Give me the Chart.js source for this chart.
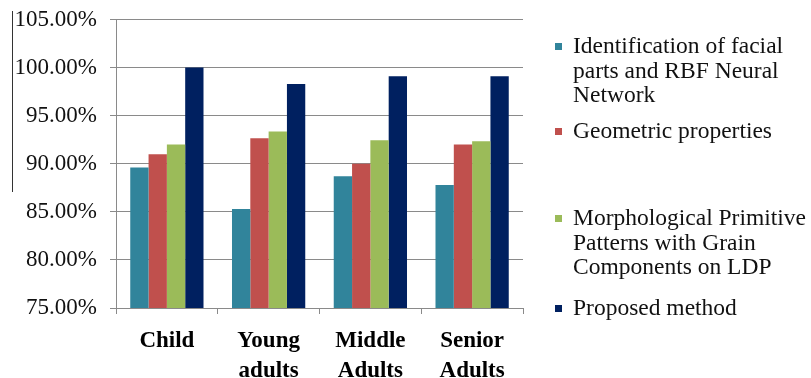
<!DOCTYPE html>
<html>
<head>
<meta charset="utf-8">
<script src="https://cdn.jsdelivr.net/npm/chart.js@4/dist/chart.umd.min.js"></script>
<style>
  html, body { margin: 0; padding: 0; background: #fff; }
  #wrap { position: relative; width: 811px; height: 378px; overflow: hidden; }
  #c { position: absolute; left: 0; top: 0; }
  #artifact { position: absolute; left: 12px; top: 11px; width: 1px; height: 181px; background: #333; }
  .leg { position: absolute; left: 555px; font-family: 'Liberation Serif', serif; font-size: 23.5px; line-height: 24.5px; color: #111; }
  .leg .sw { position: absolute; left: 0; width: 7px; height: 7px; }
  .leg .tx { position: absolute; left: 18px; white-space: nowrap; }
</style>
</head>
<body>
<div id="wrap">
  <canvas id="c" width="811" height="378"></canvas>
  <div id="artifact"></div>
  <div id="legend"></div>
</div>
<script>
const categories = [["Child"], ["Young", "adults"], ["Middle", "Adults"], ["Senior", "Adults"]];
const seriesNames = [
  "Identification of facial parts and RBF Neural Network",
  "Geometric properties",
  "Morphological Primitive Patterns with Grain Components on LDP",
  "Proposed method"
];
const legendLines = [
  ["Identification of facial", "parts and RBF Neural", "Network"],
  ["Geometric properties"],
  ["Morphological Primitive", "Patterns with Grain", "Components on LDP"],
  ["Proposed method"]
];
const identificationRBF = [89.6, 85.3, 88.7, 87.8];
const geometricProps = [91.0, 92.65, 90.0, 92.0];
const morphologicalLDP = [92.0, 93.35, 92.45, 92.35];
const proposedMethod = [100.0, 98.3, 99.1, 99.1];
const yTicks = [75, 80, 85, 90, 95, 100, 105];

const colors = ["#31849B", "#C0504D", "#9BBB59", "#002060"];
const seriesData = [identificationRBF, geometricProps, morphologicalLDP, proposedMethod];

const legendTops = [33, 118, 205, 295];
const legendEl = document.getElementById("legend");
legendLines.forEach((lines, i) => {
  const item = document.createElement("div");
  item.className = "leg";
  item.style.top = legendTops[i] + "px";
  item.title = seriesNames[i];
  const sw = document.createElement("div");
  sw.className = "sw";
  sw.style.background = colors[i];
  sw.style.top = "10px";
  const tx = document.createElement("div");
  tx.className = "tx";
  tx.innerHTML = lines.join("<br>");
  item.appendChild(sw);
  item.appendChild(tx);
  legendEl.appendChild(item);
});

const serif = "'Liberation Serif', serif";

function draw() {
  new Chart(document.getElementById("c"), {
    type: "bar",
    data: {
      labels: categories,
      datasets: seriesData.map((d, i) => ({
        label: seriesNames[i],
        data: d,
        backgroundColor: colors[i],
        borderWidth: 0,
        categoryPercentage: 0.72,
        barPercentage: 1.0
      }))
    },
    options: {
      responsive: false,
      animation: false,
      devicePixelRatio: 1,
      layout: { padding: { left: 0, right: 288, top: 5, bottom: 0 } },
      plugins: { legend: { display: false }, tooltip: { enabled: false } },
      scales: {
        x: {
          grid: { display: true, drawOnChartArea: false, offset: true, color: "#8a8a8a", tickLength: 6, lineWidth: 1 },
          border: { display: true, color: "#8a8a8a" },
          ticks: {
            color: "#000",
            font: { family: serif, size: 23, weight: "bold", lineHeight: 1.3 },
            padding: 12,
            maxRotation: 0
          },
          afterFit: (s) => { s.height = 70; }
        },
        y: {
          min: 75, max: 105,
          afterBuildTicks: (s) => { s.ticks = yTicks.map(v => ({ value: v })); },
          grid: { color: "#8a8a8a", tickLength: 6, lineWidth: 1 },
          border: { display: true, color: "#8a8a8a" },
          ticks: {
            color: "#111",
            font: { family: serif, size: 23 },
            padding: 13,
            callback: (v) => Number(v).toFixed(2) + "%"
          },
          afterFit: (s) => { s.width = 116; s.paddingTop = 19.5; s.paddingBottom = 0; }
        }
      }
    }
  });
}

Promise.all([
  document.fonts.load("23px 'Liberation Serif'"),
  document.fonts.load("bold 23px 'Liberation Serif'")
]).then(draw, draw);
</script>
</body>
</html>
